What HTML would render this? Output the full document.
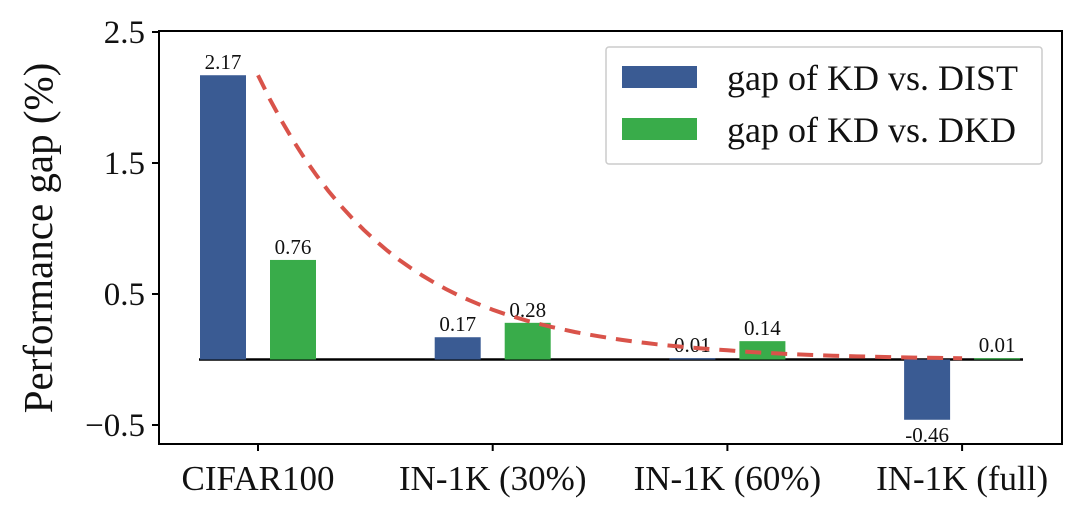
<!DOCTYPE html>
<html><head><meta charset="utf-8"><style>
body{margin:0;background:#fff;}
svg{display:block;font-family:"Liberation Serif",serif;}
</style></head><body>
<svg id="c" width="1080" height="514"></svg>
<script>
const categories=["CIFAR100","IN-1K (30%)","IN-1K (60%)","IN-1K (full)"];
const distGap=[2.17,0.17,0.01,-0.46];
const dkdGap=[0.76,0.28,0.14,0.01];
const trendValues=[2.17,0.38,0.07,0.01];
const yTicks=[2.5,1.5,0.5,-0.5];
const yTickLabels=["2.5","1.5","0.5","\u22120.5"];
const NS="http://www.w3.org/2000/svg";
const svg=document.getElementById('c');
function el(t,a,p){const e=document.createElementNS(NS,t);for(const k in a)e.setAttribute(k,a[k]);(p||svg).appendChild(e);return e;}
const L=159,R=1062,T=31,B=444;
const y=v=>359.5-v*131;
const x=i=>258+i*234.7;
const bw=46,off=35;
let z=el('line',{x1:199,x2:1023,y1:y(0),y2:y(0),stroke:'#000','stroke-width':2.5});

categories.forEach((c,i)=>{
  [[distGap[i],-off,'#3a5b93','dist'],[dkdGap[i],off,'#39ac4a','dkd']].forEach(([v,o,col,s])=>{
    const cx=x(i)+o;
    const r=el('rect',{x:cx-bw/2,y:Math.min(y(v),y(0)),width:bw,height:Math.abs(y(v)-y(0)),fill:col});
    
    const ty=v>=0?y(v)-6:y(v)+22;
    const t=el('text',{x:cx,y:ty,'text-anchor':'middle','font-size':21,fill:'#111'});t.textContent=v.toFixed(2);
    
  });
  const tk=el('line',{x1:x(i),x2:x(i),y1:B,y2:B+7,stroke:'#000','stroke-width':2});
  
  const tl=el('text',{x:x(i),y:490,'text-anchor':'middle','font-size':35,fill:'#111'});tl.textContent=c;
  
});
let d='';
for(let i=0;i<trendValues.length-1;i++){
  for(let k=0;k<=20;k++){const f=k/20;const v=Math.exp(Math.log(trendValues[i])*(1-f)+Math.log(trendValues[i+1])*f);
    d+=(d?'L':'M')+(x(i)+f*(x(i+1)-x(i))).toFixed(1)+','+y(v).toFixed(1);}
}
const tr=el('path',{d:d,fill:'none',stroke:'#d9534a','stroke-width':4,'stroke-dasharray':'16,10'});

const fr=el('rect',{x:L,y:T,width:R-L,height:B-T,fill:'none',stroke:'#000','stroke-width':2});

yTicks.forEach((v,i)=>{
  const tk=el('line',{x1:L-7,x2:L,y1:y(v),y2:y(v),stroke:'#000','stroke-width':2});
  
  const t=el('text',{x:L-14,y:y(v)+11,'text-anchor':'end','font-size':33,fill:'#111'});t.textContent=yTickLabels[i];
  
});
const yl=el('text',{x:0,y:0,transform:'translate(52,238) rotate(-90)','text-anchor':'middle','font-size':41,fill:'#111'});
yl.textContent='Performance gap (%)';

const lg=el('g',{});
el('rect',{x:606,y:47,width:436,height:117,fill:'#fff',stroke:'#ccc','stroke-width':1.5,rx:3},lg);
[['gap of KD vs. DIST','#3a5b93',66],['gap of KD vs. DKD','#39ac4a',118]].forEach(([s,col,yy],i)=>{
  const g=el('g',{},lg);
  el('rect',{x:622,y:yy,width:75,height:22,fill:col},g);
  const t=el('text',{x:727,y:yy+24,'font-size':36,fill:'#111'},g);t.textContent=s;
});
</script>
</body></html>
